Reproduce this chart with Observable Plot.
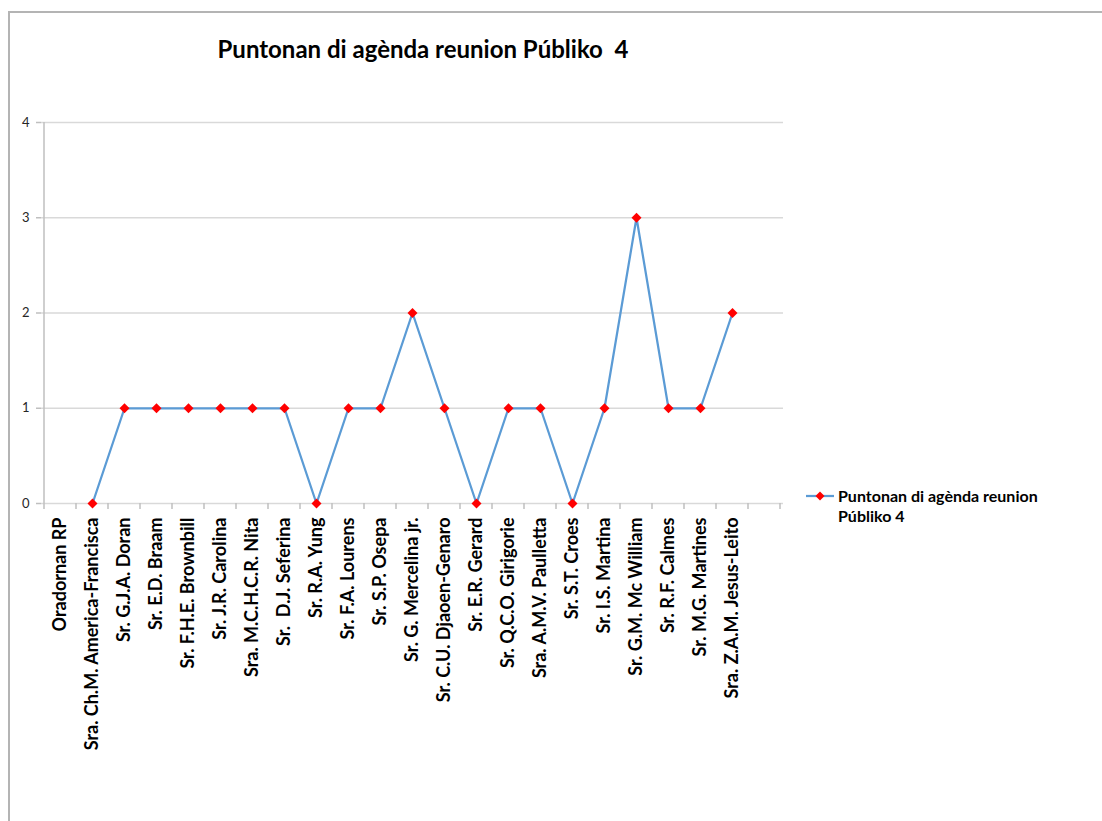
<!DOCTYPE html>
<html>
<head>
<meta charset="utf-8">
<script src="https://cdn.jsdelivr.net/npm/d3@7"></script>
<script src="https://cdn.jsdelivr.net/npm/@observablehq/plot@0.6"></script>
<style>
  html, body { margin: 0; padding: 0; background: #fff; }
  #wrap { position: relative; width: 1102px; height: 821px; overflow: hidden; font-family: Lato, "Open Sans", sans-serif; }
  #frame { position: absolute; left: 8px; top: 11px; width: 2000px; height: 2000px; border-left: 2px solid #b4b4b4; border-top: 2px solid #b4b4b4; }
  #chart { position: absolute; left: 0; top: 0; }
  #title { position: absolute; left: 0; width: 846px; top: 34px; line-height: 30px; text-align: center; font-weight: bold; font-size: 24px; color: #000; white-space: pre; }
  #legend { position: absolute; left: 805px; top: 486px; display: flex; align-items: flex-start; font-weight: bold; font-size: 16px; line-height: 20px; color: #000; }
  #legend svg { margin-top: 3px; margin-right: 3px; }
</style>
</head>
<body>
<div id="wrap">
  <div id="frame"></div>
  <div id="chart"></div>
  <div id="title"></div>
  <div id="legend"></div>
</div>
<script>
const chartTitle = "Puntonan di agènda reunion Públiko  4";
const seriesName = "Puntonan di agènda reunion Públiko 4";
const categories = [
  "Oradornan RP",
  "Sra. Ch.M. America-Francisca",
  "Sr. G.J.A. Doran",
  "Sr. E.D. Braam",
  "Sr. F.H.E. Brownbill",
  "Sr. J.R. Carolina",
  "Sra. M.C.H.C.R. Nita",
  "Sr.  D.J. Seferina",
  "Sr. R.A. Yung",
  "Sr. F.A. Lourens",
  "Sr. S.P. Osepa",
  "Sr. G. Mercelina jr.",
  "Sr. C.U. Djaoen-Genaro",
  "Sr. E.R. Gerard",
  "Sr. Q.C.O. Girigorie",
  "Sra. A.M.V. Paulletta",
  "Sr. S.T. Croes",
  "Sr. I.S. Martina",
  "Sr. G.M. Mc William",
  "Sr. R.F. Calmes",
  "Sr. M.G. Martines",
  "Sra. Z.A.M. Jesus-Leito"
];
const extraSlots = [""];
const values = [null, 0, 1, 1, 1, 1, 1, 1, 0, 1, 1, 2, 1, 0, 1, 1, 0, 1, 3, 1, 1, 2];
const yTicks = [0, 1, 2, 3, 4];

const domain = categories.concat(extraSlots);
const data = categories.map((c, i) => ({name: c, value: values[i]}));

const lineColor = "#5b9bd5";
const dotColor = "#ff0000";
const gridColor = "#d9d9d9";
const axisColor = "#bfbfbf";

// boundary ticks + left axis line, derived from the x/y scales
function categoryTicks(index, scales) {
  const x = scales.x, y = scales.y;
  const p0 = x(domain[0]), p1 = x(domain[1]);
  const step = p1 - p0;
  const g = d3.create("svg:g");
  const y0 = y(0);
  for (let i = 0; i <= domain.length; i++) {
    const bx = p0 + (i - 0.5) * step;
    g.append("line").attr("x1", bx).attr("x2", bx).attr("y1", y0).attr("y2", y0 + 6)
      .attr("stroke", axisColor).attr("stroke-width", 1.5);
  }
  const lx = p0 - 0.5 * step;
  g.append("line").attr("x1", lx).attr("x2", lx).attr("y1", y(0)).attr("y2", y(4))
    .attr("stroke", axisColor).attr("stroke-width", 1.5);
  return g.node();
}

const chart = Plot.plot({
  width: 1102,
  height: 821,
  marginLeft: 41,
  marginRight: 319,
  marginTop: 122,
  marginBottom: 318,
  style: {fontFamily: "Lato, 'Open Sans', sans-serif", fontSize: "12px", color: "#262626", background: "transparent"},
  x: {type: "point", domain, padding: 0.5, align: 0.5, label: null},
  y: {domain: [0, 4], label: null},
  marks: [
    Plot.ruleY(yTicks, {stroke: gridColor, strokeWidth: 1.5}),
    categoryTicks,
    Plot.axisY({ticks: yTicks, tickFormat: d3.format("d"), tickSize: 5, tickPadding: 7, stroke: axisColor, strokeWidth: 1.5, fill: "#262626", fontSize: 13, label: null}),
    Plot.axisX({tickRotate: -90, tickSize: 0, tickPadding: 14, fill: "#000", fontSize: 18, fontWeight: "bold", label: null}),
    Plot.line(data, {x: "name", y: "value", stroke: lineColor, strokeWidth: 2.25}),
    Plot.dot(data, {x: "name", y: "value", symbol: "diamond2", r: 4.5, fill: dotColor, stroke: "none"})
  ]
});
document.getElementById("chart").appendChild(chart);
document.getElementById("title").textContent = chartTitle;

const legend = document.getElementById("legend");
legend.innerHTML = `<svg width="30" height="14"><line x1="1" x2="29" y1="7" y2="7" stroke="${lineColor}" stroke-width="2.25"/><path d="M15,2.5L19.5,7L15,11.5L10.5,7Z" fill="${dotColor}"/></svg><div style="width:240px"></div>`;
legend.lastChild.textContent = "Puntonan di agènda reunion";
legend.lastChild.appendChild(document.createElement("br"));
legend.lastChild.appendChild(document.createTextNode("Públiko 4"));
</script>
</body>
</html>
